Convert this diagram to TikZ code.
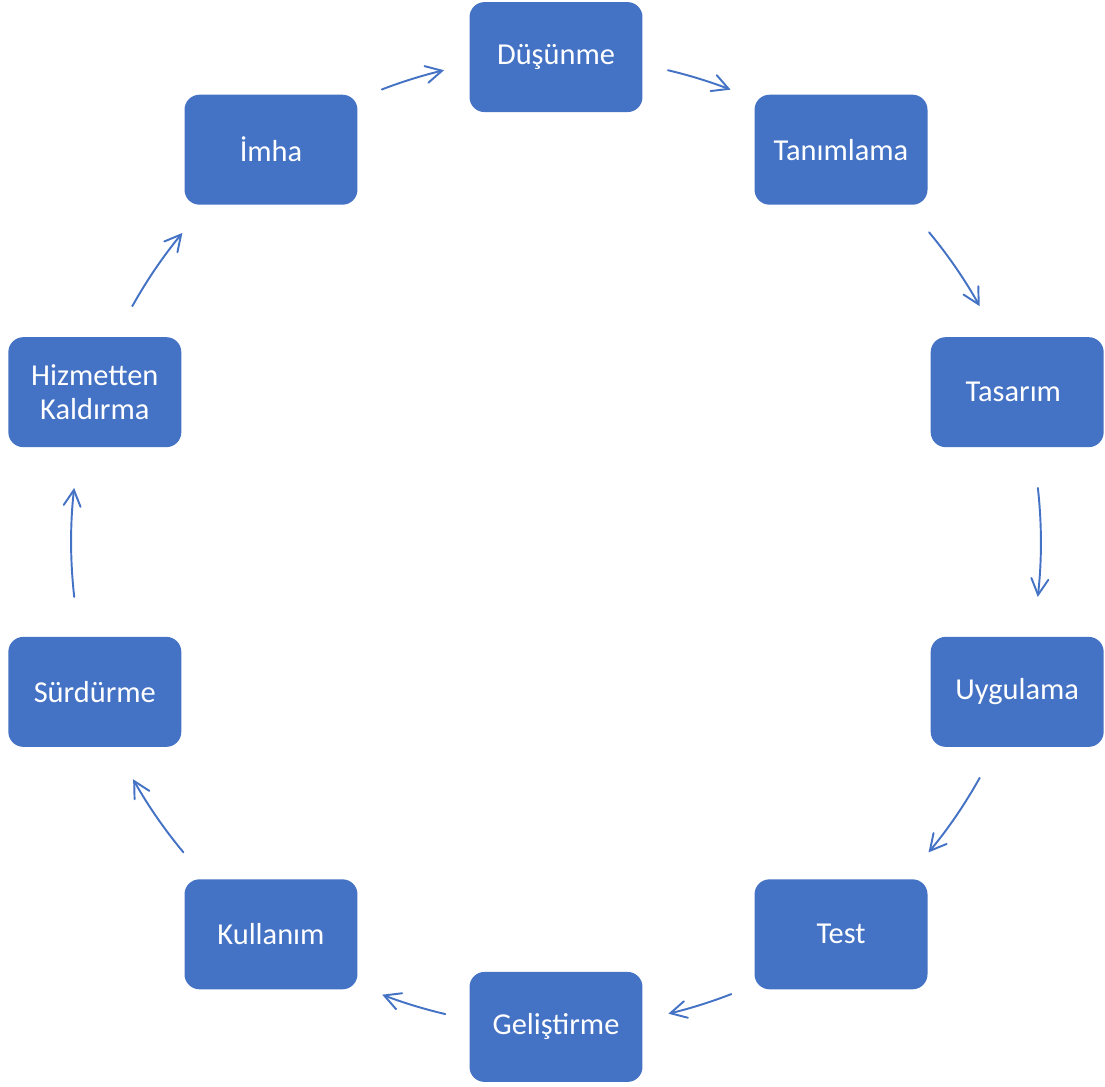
\documentclass[tikz,border=0pt]{standalone}
\usepackage{fontspec}
\setmainfont{Carlito}
\usetikzlibrary{arrows.meta,calc}
\definecolor{boxblue}{HTML}{4472C4}
\begin{document}
\begin{tikzpicture}[x=0.02cm,y=-0.02cm,
  phase/.style={rectangle, rounded corners=0.3cm, fill=boxblue,
    minimum width=3.46cm, minimum height=2.2cm, inner sep=0pt,
    text=white, align=center,
    font=\fontsize{17.3}{19.6}\selectfont},
  flow/.style={draw=boxblue, line width=1.1pt, line cap=round,
    -{Straight Barb[length=3.2mm,width=3.4mm,line cap=round]}}]
  \useasboundingbox (0,0) rectangle (1105,1086);
  \coordinate (c) at (556,542);
  % the ten phases, evenly spaced on a circle
  \node[phase] (p1)  at ($(c)+(90:9.7cm)$)   {Düşünme};
  \node[phase] (p2)  at ($(c)+(54:9.7cm)$)   {Tanımlama};
  \node[phase] (p3)  at ($(c)+(18:9.7cm)$)   {Tasarım\hspace{0.25em}};
  \node[phase] (p4)  at ($(c)+(-18:9.7cm)$)  {Uygulama};
  \node[phase] (p5)  at ($(c)+(-54:9.7cm)$)  {Test};
  \node[phase] (p6)  at ($(c)+(-90:9.7cm)$)  {Geliştirme};
  \node[phase] (p7)  at ($(c)+(-126:9.7cm)$) {Kullanım};
  \node[phase] (p8)  at ($(c)+(-162:9.7cm)$) {Sürdürme};
  \node[phase] (p9)  at ($(c)+(162:9.7cm)$)  {Hizmetten\\Kaldırma};
  \node[phase] (p10) at ($(c)+(126:9.7cm)$)  {İmha};
  % curved arrows along the same circle, between neighbouring phases
  \foreach \i/\a/\b in {1/76.65/68.9, 2/39.7/29.1, 3/6.4/-6.5, 4/-29.1/-39.8,
      5/-68.8/-76.6, 6/-103.2/-111.0, 7/-140.2/-150.7, 8/-173.5/-186.4,
      9/150.9/140.4, 10/111.05/103.35}{
    \coordinate (s\i) at ($(c)+(\a:9.7cm)$);
    \draw[flow] (s\i) arc[start angle=\a, end angle=\b, radius=9.7cm];
  }
\end{tikzpicture}
\end{document}
